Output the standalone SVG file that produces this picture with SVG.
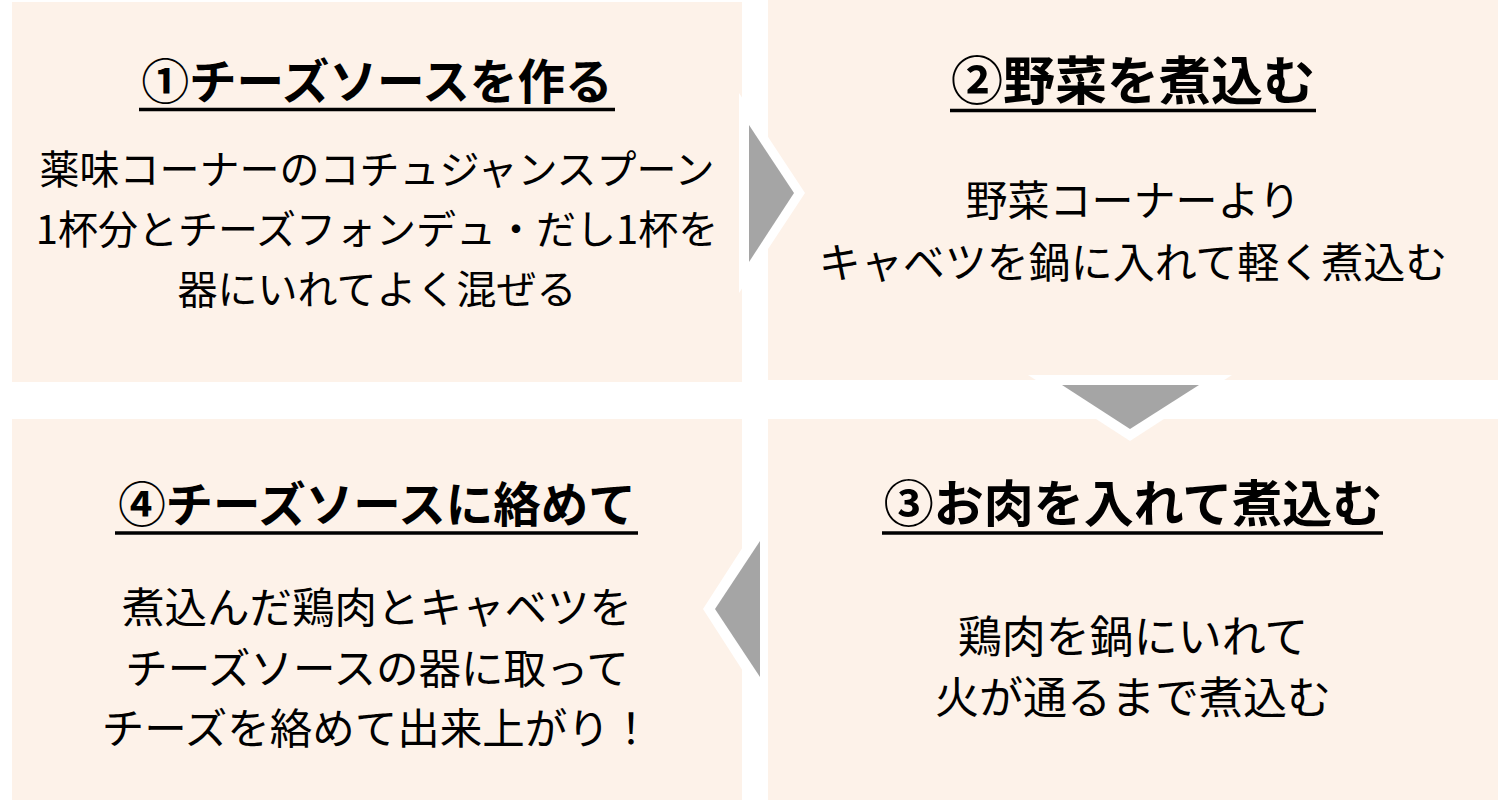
<svg xmlns="http://www.w3.org/2000/svg" width="1504" height="800" viewBox="0 0 1504 800">
  <style>
    .box { fill: #FDF2E9; }
    .title { font-family: "Noto Sans CJK JP", sans-serif; font-weight: 700; fill: #000; text-anchor: middle; }
    .body { font-family: "Noto Sans CJK JP", sans-serif; font-weight: 400; fill: #000; text-anchor: middle; }
    .b40 { font-size: 40px; }
    .b42 { font-size: 42px; }
    .b425 { font-size: 42.5px; }
    .b44 { font-size: 44px; }
    .ul { stroke: #000; stroke-width: 3.5; }
    .halo { fill: #FFFFFF; }
    .arrow { fill: #A5A5A5; }
  </style>
  <rect width="1504" height="800" fill="#FFFFFF"/>

  <g id="step1">
    <rect class="box" x="12" y="2" width="730" height="380"/>
    <text class="title" x="377" y="99" font-size="47.6">①チーズソースを作る</text>
    <line class="ul" x1="139" y1="109.5" x2="615" y2="109.5"/>
    <text class="body b40" x="377" y="184">薬味コーナーのコチュジャンスプーン</text>
    <text class="body b40" x="377" y="244">1杯分とチーズフォンデュ・だし1杯を</text>
    <text class="body b40" x="377" y="304">器にいれてよく混ぜる</text>
  </g>

  <g id="step2">
    <rect class="box" x="768" y="0" width="730" height="380"/>
    <text class="title" x="1133" y="100" font-size="52">②野菜を煮込む</text>
    <line class="ul" x1="950" y1="110.5" x2="1316" y2="110.5"/>
    <text class="body b42" x="1133" y="216">野菜コーナーより</text>
    <text class="body b42" x="1133" y="278">キャベツを鍋に入れて軽く煮込む</text>
  </g>

  <g id="step3">
    <rect class="box" x="768" y="419" width="730" height="381"/>
    <text class="title" x="1133" y="522" font-size="50">③お肉を入れて煮込む</text>
    <line class="ul" x1="882" y1="533" x2="1383" y2="533"/>
    <text class="body b44" x="1133" y="653">鶏肉を鍋にいれて</text>
    <text class="body b44" x="1133" y="714">火が通るまで煮込む</text>
  </g>

  <g id="step4">
    <rect class="box" x="12" y="419" width="730" height="381"/>
    <text class="title" x="377" y="522" font-size="47.5">④チーズソースに絡めて</text>
    <line class="ul" x1="115" y1="533" x2="638" y2="533"/>
    <text class="body b425" x="377" y="623">煮込んだ鶏肉とキャベツを</text>
    <text class="body b425" x="377" y="684">チーズソースの器に取って</text>
    <text class="body b425" x="377" y="744">チーズを絡めて出来上がり！</text>
  </g>

  <g id="connectors">
    <g id="arrow-1-2">
      <polygon class="halo" points="739,93 805,193 739,293"/>
      <polygon class="arrow" points="749,125 794,193 749,262"/>
    </g>
    <g id="arrow-2-3">
      <polygon class="halo" points="1028,375 1232,375 1130,441"/>
      <polygon class="arrow" points="1062,385 1199,385 1130,429"/>
    </g>
    <g id="arrow-3-4">
      <polygon class="halo" points="768,508 703,609 768,710"/>
      <polygon class="arrow" points="760,541 715,609 760,677"/>
    </g>
  </g>
</svg>
